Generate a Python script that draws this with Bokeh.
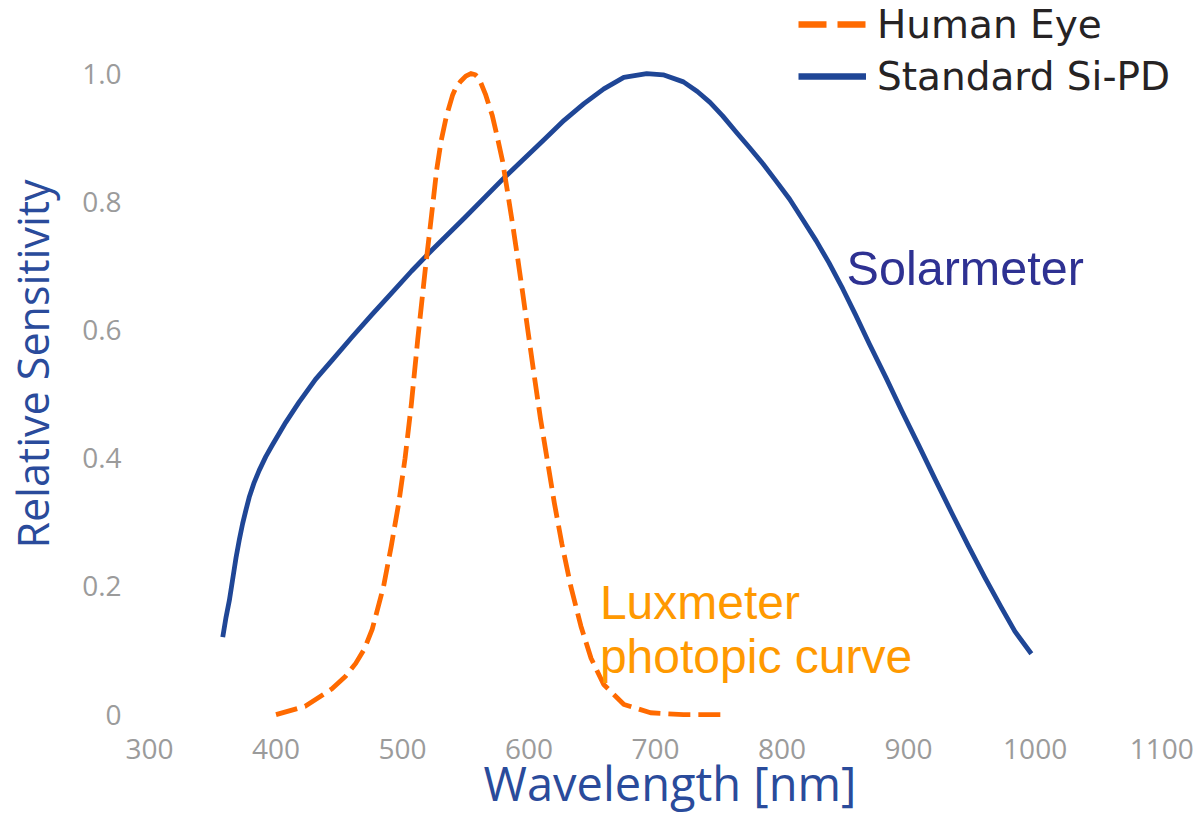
from bokeh.plotting import figure
from bokeh.models import FixedTicker, Legend, LegendItem, Range1d
from bokeh.embed import file_html
from bokeh.resources import INLINE
from bokeh.core.properties import value

# ---- data ----
si_nm = [357.9, 360.5, 363.1, 365.8, 368.4, 371.0, 373.6, 376.2, 378.8, 382.7, 386.7,
         391.9, 397.2, 407.7, 418.1, 431.2, 444.4, 460.1, 475.8, 491.5, 507.2, 522.9,
         549.1, 580.6, 612.0, 627.7, 643.4, 659.1, 674.9, 693, 706, 722, 733, 743, 753,
         764, 774, 785, 795, 806, 816, 827, 837, 848, 858, 869, 882, 895, 908, 921,
         934, 947, 960, 973, 984, 997]
si_val = [0.121, 0.152, 0.178, 0.212, 0.245, 0.273, 0.298, 0.319, 0.339, 0.362, 0.381,
          0.4025, 0.421, 0.456, 0.487, 0.523, 0.553, 0.589, 0.624, 0.658, 0.692, 0.724,
          0.775, 0.838, 0.897, 0.927, 0.953, 0.976, 0.994, 1.0, 0.998, 0.987,
          0.972, 0.955, 0.934, 0.908, 0.885, 0.859, 0.833, 0.804, 0.773, 0.739, 0.705,
          0.664, 0.624, 0.578, 0.526, 0.472, 0.420, 0.367, 0.315, 0.264, 0.215, 0.168,
          0.130, 0.095]

eye_nm = [400, 423, 444, 455, 463, 470, 476, 485, 491, 497, 502, 507, 512, 518, 523,
          527, 530.5, 534.5, 539.5, 542, 546, 550, 554, 557.5, 560.5, 565.5, 571, 575,
          579, 583, 587, 591, 595, 599, 604, 609, 615, 620, 626, 633, 641, 649, 659,
          675, 696, 722, 756]
eye_val = [0.0, 0.013, 0.040, 0.060, 0.080, 0.103, 0.133, 0.200, 0.262, 0.330, 0.400,
           0.485, 0.585, 0.695, 0.780, 0.850, 0.895, 0.932, 0.966, 0.977, 0.988, 0.996,
           1.0, 0.998, 0.992, 0.968, 0.934, 0.900, 0.864, 0.815, 0.765, 0.712, 0.657,
           0.600, 0.530, 0.462, 0.390, 0.330, 0.266, 0.200, 0.138, 0.088, 0.047, 0.016,
           0.003, 0.0, 0.0]

x_ticks = [300, 400, 500, 600, 700, 800, 900, 1000, 1100]
y_ticks = [0, 0.2, 0.4, 0.6, 0.8, 1.0]
y_tick_labels = ["0", "0.2", "0.4", "0.6", "0.8", "1.0"]
legend_labels = ["Human Eye", "Standard Si-PD"]
x_title = "Wavelength [nm]"
y_title = "Relative Sensitivity"

solar_text = ["Solarmeter"]
solar_x = [851]
solar_y = [0.696]
lux_text = ["Luxmeter", "photopic curve"]
lux_x = [656, 656]
lux_y = [0.175, 0.090]

ORANGE = "#ff6a00"
BLUE = "#1f4696"
NAN = float("nan")

p = figure(width=1199, height=818,
           x_range=Range1d(300, 1122.8), y_range=Range1d(-0.02, 1.1139),
           output_backend="svg", toolbar_location=None,
           min_border_left=143, min_border_right=9,
           min_border_top=0, min_border_bottom=91)
p.outline_line_color = None
p.grid.visible = False
p.background_fill_color = "white"
p.border_fill_color = "white"

for ax in (p.xaxis, p.yaxis):
    ax.axis_line_color = None
    ax.major_tick_line_color = None
    ax.minor_tick_line_color = None
    ax.major_label_text_font = "Open Sans"
    ax.major_label_text_font_size = "28px"
    ax.major_label_text_color = "#9b9b9b"
    ax.axis_label_text_font = "Open Sans"
    ax.axis_label_text_font_style = "normal"
    ax.axis_label_text_color = "#2a4b9b"

p.xaxis.ticker = FixedTicker(ticks=x_ticks)
p.xaxis.axis_label = x_title
p.xaxis.axis_label_text_font_size = "47px"
p.xaxis.major_label_standoff = 5
p.xaxis.axis_label_standoff = -11

p.yaxis.ticker = FixedTicker(ticks=y_ticks)
p.yaxis.major_label_overrides = {t: s for t, s in zip(y_ticks, y_tick_labels)}
p.yaxis.axis_label = y_title
p.yaxis.axis_label_text_font_size = "43px"
p.yaxis.major_label_standoff = 22
p.yaxis.axis_label_standoff = 17

p.line(si_nm, si_val, line_color=BLUE, line_width=4.8, line_join="round")
p.line(eye_nm, eye_val, line_color=ORANGE, line_width=4.8, line_dash="22 8",
       line_join="round")

leg_eye = p.line([NAN, NAN], [NAN, NAN], line_color=ORANGE, line_width=6.5,
                 line_dash="28 11")
leg_si = p.line([NAN, NAN], [NAN, NAN], line_color=BLUE, line_width=6.5)

legend = Legend(items=[LegendItem(label=legend_labels[0], renderers=[leg_eye]),
                       LegendItem(label=legend_labels[1], renderers=[leg_si])],
                location=(649, 626))
legend.glyph_width = 68
legend.glyph_height = 50
legend.label_height = 50
legend.label_standoff = 11
legend.spacing = 2
legend.padding = 0
legend.margin = 0
legend.border_line_color = None
legend.background_fill_alpha = 0
legend.label_text_font = "DejaVu Sans"
legend.label_text_font_size = "39px"
legend.label_text_color = "#262324"
p.add_layout(legend)

p.text(x=solar_x, y=solar_y, text=solar_text, text_font=value("Liberation Sans"),
       text_font_size="48.5px", text_color="#2e3192", text_baseline="alphabetic",
       text_align="left")
p.text(x=lux_x, y=lux_y, text=lux_text, text_font=value("Liberation Sans"),
       text_font_size="48px", text_color="#ff9900", text_baseline="alphabetic",
       text_align="left")

open("out.html", "w").write(file_html(p, INLINE))
